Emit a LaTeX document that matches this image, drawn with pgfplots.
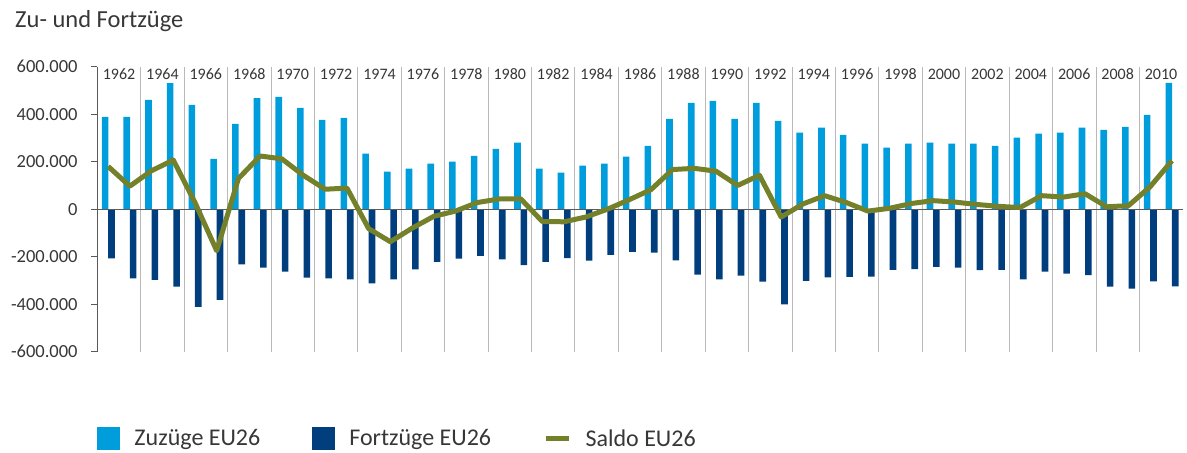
\documentclass[border=0pt]{standalone}
\usepackage{fontspec}
\setmainfont{Carlito}
\usepackage{pgfplots}
\pgfplotsset{compat=1.18}
\usepackage{pgfplotstable}
\definecolor{zu}{RGB}{0,157,220}
\definecolor{fort}{RGB}{0,62,125}
\definecolor{saldo}{RGB}{117,128,42}
\definecolor{txt}{RGB}{55,55,55}
\definecolor{sep}{RGB}{185,185,185}
\definecolor{axl}{RGB}{90,90,90}
\pgfplotstableread{
year zu fort saldo
1962 389000 -207000 180000
1963 389000 -291000 97000
1964 460000 -298000 162000
1965 531000 -326000 207000
1966 439000 -411000 28000
1967 212000 -382000 -175000
1968 359000 -232000 129000
1969 468000 -246000 224000
1970 473000 -263000 212000
1971 427000 -288000 142000
1972 376000 -291000 84000
1973 385000 -296000 89000
1974 234000 -312000 -82000
1975 158000 -295000 -137000
1976 171000 -253000 -80000
1977 192000 -222000 -30000
1978 200000 -208000 -8000
1979 225000 -197000 28000
1980 254000 -211000 43000
1981 280000 -235000 44000
1982 171000 -222000 -52000
1983 154000 -206000 -53000
1984 183000 -217000 -33000
1985 192000 -192000 0
1986 221000 -180000 40000
1987 267000 -183000 82000
1988 380000 -215000 167000
1989 448000 -276000 172000
1990 456000 -295000 160000
1991 380000 -280000 100000
1992 448000 -305000 143000
1993 372000 -401000 -33000
1994 322000 -302000 22000
1995 343000 -287000 57000
1996 313000 -285000 28000
1997 276000 -284000 -8000
1998 259000 -256000 4000
1999 276000 -252000 24000
2000 280000 -243000 36000
2001 276000 -246000 30000
2002 276000 -257000 20000
2003 267000 -256000 12000
2004 301000 -295000 7000
2005 318000 -263000 57000
2006 322000 -271000 51000
2007 343000 -278000 65000
2008 334000 -326000 10000
2009 347000 -334000 15000
2010 397000 -304000 95000
2011 532000 -325000 204000
}\datatable
\begin{document}
\begin{tikzpicture}
\useasboundingbox (0,0) rectangle (1187bp,453bp);
\node[anchor=base west, font=\fontsize{24.5bp}{28bp}\selectfont, text=txt, inner sep=0] at (15bp,425bp) {Zu- und Fortzüge};
\begin{axis}[
  at={(97.3bp,101.3bp)}, anchor=south west,
  scale only axis, width=1085.5bp, height=285bp,
  xmin=1961.5, xmax=2011.5,
  ymin=-600000, ymax=600000,
  axis lines=left,
  x axis line style={draw=none},
  y axis line style={draw=axl, line width=0.9bp, -},
  xtick={1963.5,1965.5,...,2009.5},
  xticklabels={},
  xtick style={draw=none},
  xmajorgrids,
  grid style={draw=sep, line width=0.9bp},
  ytick={-600000,-400000,...,600000},
  ytick style={draw=axl, line width=0.9bp},
  tick align=outside,
  major tick length=6.5bp,
  scaled y ticks=false,
  yticklabel style={font=\fontsize{18.5bp}{20bp}\selectfont, text=txt, inner sep=0, anchor=east, xshift=-13bp},
  /pgf/number format/.cd, fixed, 1000 sep={.}, assume math mode=true,
  /pgfplots/.cd,
  clip=false,
  legend columns=3,
  legend style={at={(0,-0.305)}, anchor=west, draw=none, fill=none, inner sep=0,
    font=\fontsize{24bp}{27bp}\selectfont, text=txt,
    /tikz/every odd column/.append style={column sep=12.5bp},
    /tikz/every even column/.append style={column sep=50bp}},
  legend cell align=left,
]
\addplot[ybar, bar width=6.6bp, bar shift=-3.1bp, fill=zu, draw=none,
  legend image code/.code={\fill[zu] (0bp,-11.5bp) rectangle (22.5bp,11.5bp);}]
  table[x=year, y=zu] {\datatable};
\addlegendentry{Zuzüge EU26}
\addplot[ybar, bar width=6.6bp, bar shift=3.3bp, fill=fort, draw=none,
  legend image code/.code={\fill[fort] (0bp,-11.5bp) rectangle (22.5bp,11.5bp);}]
  table[x=year, y=fort] {\datatable};
\addlegendentry{Fortzüge EU26}
\addplot[draw=axl, line width=0.9bp, forget plot] coordinates {(1961.5,0) (2011.5,0)};
\addplot[saldo, line width=5bp, line join=round, mark=none,
  legend image code/.code={\draw[saldo, line width=5bp] (0bp,0bp) -- (23bp,0bp);}]
  table[x=year, y=saldo] {\datatable};
\addlegendentry{Saldo EU26}
\pgfplotsinvokeforeach{1962,1964,...,2010}{
  \node[anchor=base, font=\fontsize{16bp}{18bp}\selectfont, text=txt, inner sep=0] at (axis cs:#1.5,600000) [yshift=-12.3bp] {#1};
}
\end{axis}
\end{tikzpicture}
\end{document}
